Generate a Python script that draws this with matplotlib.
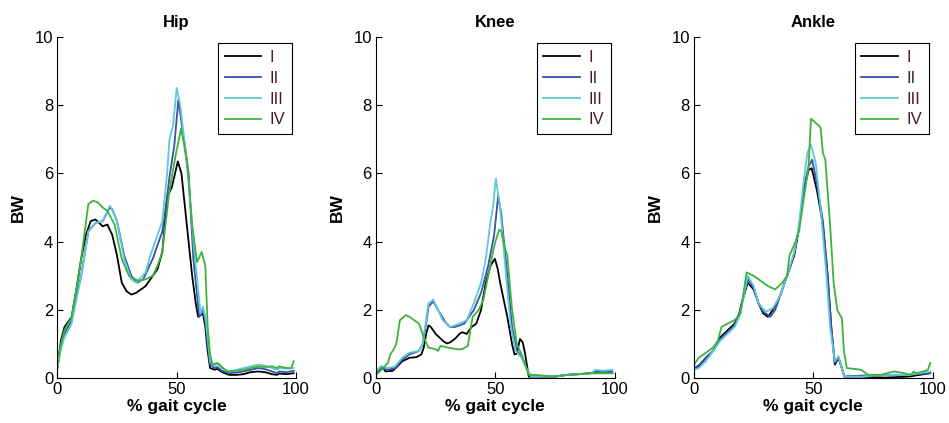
import matplotlib
matplotlib.use("Agg")
import matplotlib.pyplot as plt

plt.rcParams['font.family'] = ['Liberation Sans', 'DejaVu Sans']

titles = ["Hip", "Knee", "Ankle"]
series_names = ["I", "II", "III", "IV"]
colors = ["#000000", "#3a4fa8", "#5ec8dc", "#3cb43c"]

# ---- Hip ----
hip_I_x = [0, 1.5, 3, 6, 8, 10, 12, 14, 16, 19, 21, 23, 25, 27, 29, 31, 33, 35, 37, 40, 42, 44, 46, 48, 50.5, 52, 53.5, 55, 56.5, 58, 59, 60, 61, 62, 63, 64, 66, 67, 69, 72, 75, 78, 81, 84, 87, 90, 92, 93, 96, 99]
hip_I_y = [0.3, 1.1, 1.5, 1.8, 2.6, 3.5, 4.2, 4.6, 4.65, 4.45, 4.5, 4.2, 3.6, 2.8, 2.55, 2.45, 2.5, 2.6, 2.7, 3.0, 3.2, 3.7, 5.3, 5.6, 6.35, 6.0, 5.0, 4.0, 3.0, 2.2, 1.8, 1.85, 1.9, 1.5, 0.8, 0.3, 0.25, 0.28, 0.18, 0.1, 0.1, 0.12, 0.18, 0.2, 0.18, 0.12, 0.1, 0.14, 0.12, 0.15]
hip_II_x = [0, 1.5, 3, 6, 8, 10, 13, 16, 19, 22, 23, 25, 28, 31, 33.5, 36, 38, 40, 42, 44, 46, 47, 49, 50.7, 52, 53.5, 55, 57, 59.5, 61, 62, 63, 64, 66, 67, 69, 72, 75, 78, 81, 84, 87, 90, 92, 93, 96, 99]
hip_II_y = [0.3, 0.9, 1.3, 1.7, 2.4, 3.0, 4.3, 4.55, 4.6, 5.0, 4.95, 4.6, 3.6, 3.0, 2.8, 2.9, 3.2, 3.5, 3.9, 4.3, 5.3, 5.9, 6.8, 8.15, 7.5, 6.8, 6.0, 3.5, 1.8, 2.0, 1.7, 1.0, 0.4, 0.3, 0.33, 0.22, 0.15, 0.17, 0.2, 0.25, 0.3, 0.27, 0.2, 0.15, 0.2, 0.18, 0.22]
hip_III_x = [0, 1.5, 3, 6, 8, 10, 13, 16, 19, 22, 23, 25, 28, 31, 33, 35, 37, 39, 41, 44, 46, 47, 48.5, 50, 51.5, 54, 55, 57, 60, 61, 62, 63, 64, 66, 67, 69, 72, 75, 78, 81, 84, 87, 90, 92, 93, 96, 99]
hip_III_y = [0.3, 0.85, 1.2, 1.6, 2.3, 3.0, 4.3, 4.55, 4.6, 5.05, 4.95, 4.6, 3.5, 2.9, 2.8, 2.95, 3.1, 3.6, 4.0, 4.6, 6.0, 7.0, 7.4, 8.5, 8.0, 6.5, 5.8, 4.0, 1.9, 2.1, 1.8, 1.2, 0.5, 0.38, 0.42, 0.3, 0.2, 0.25, 0.3, 0.35, 0.4, 0.37, 0.3, 0.25, 0.3, 0.28, 0.3]
hip_IV_x = [0, 1.5, 3, 6, 8, 10, 13, 15, 17, 19, 21, 24, 27, 30, 34, 37, 40, 42, 44, 47, 49.5, 51.8, 53, 54.5, 56.5, 58.5, 60.5, 62, 63, 64, 65, 67, 68, 71, 75, 78, 81, 84, 87, 90, 92, 93, 96, 98, 99]
hip_IV_y = [0.4, 1.0, 1.4, 1.8, 2.6, 3.5, 5.1, 5.2, 5.15, 5.0, 4.9, 4.5, 3.5, 3.0, 2.85, 2.9, 3.0, 3.3, 3.7, 5.5, 6.5, 7.3, 6.9, 6.2, 4.5, 3.4, 3.7, 3.3, 1.5, 0.7, 0.4, 0.45, 0.4, 0.2, 0.22, 0.25, 0.3, 0.35, 0.33, 0.35, 0.3, 0.35, 0.3, 0.3, 0.5]

# ---- Knee ----
knee_I_x = [0, 1, 2.4, 4, 7, 9, 11, 14, 17, 19, 20, 21, 22, 23, 25, 28, 29.6, 31, 33, 35, 36, 38, 40, 42, 44, 46, 48, 49.8, 51, 52, 55, 57, 58, 59, 60.3, 61.5, 62.5, 64, 67, 70, 75, 80, 85, 90, 95, 99]
knee_I_y = [0.15, 0.2, 0.35, 0.2, 0.22, 0.35, 0.5, 0.6, 0.62, 0.7, 0.9, 1.3, 1.55, 1.5, 1.3, 1.1, 1.02, 1.05, 1.15, 1.3, 1.35, 1.3, 1.5, 1.6, 2.0, 2.8, 3.3, 3.5, 3.2, 2.8, 1.8, 1.0, 0.7, 0.72, 1.15, 1.05, 0.7, 0.05, 0.05, 0.05, 0.05, 0.1, 0.12, 0.15, 0.15, 0.15]
knee_II_x = [0, 2, 5, 8, 11, 14, 18, 19.5, 21, 22, 24, 26, 29, 31, 33, 35, 37, 39, 41, 44, 47, 49.5, 51.2, 52.5, 55, 57, 59, 61, 63, 65, 70, 75, 80, 85, 90, 92, 95, 99]
knee_II_y = [0.2, 0.3, 0.25, 0.3, 0.55, 0.7, 0.8, 1.0, 1.6, 2.1, 2.25, 2.0, 1.65, 1.5, 1.5, 1.55, 1.6, 1.8, 2.0, 2.5, 3.3, 4.2, 5.35, 4.8, 3.0, 1.5, 0.8, 0.65, 0.3, 0.05, 0.05, 0.05, 0.1, 0.12, 0.15, 0.2, 0.2, 0.2]
knee_III_x = [0, 2, 5, 8, 11, 14, 18, 19.5, 21, 22, 24, 26, 28, 31, 33, 35, 38, 41, 44, 46, 48, 49, 50.2, 52, 54.5, 56.5, 58.5, 61, 63, 65, 70, 75, 80, 85, 90, 92, 95, 99]
knee_III_y = [0.2, 0.35, 0.3, 0.35, 0.6, 0.75, 0.8, 1.0, 1.7, 2.2, 2.3, 2.0, 1.7, 1.5, 1.55, 1.6, 1.7, 2.2, 2.8, 3.5, 4.6, 5.0, 5.85, 5.0, 3.0, 1.5, 0.8, 0.6, 0.3, 0.05, 0.05, 0.05, 0.1, 0.12, 0.15, 0.25, 0.22, 0.25]
knee_IV_x = [0, 3, 5, 6, 7, 8.5, 10, 12.5, 14, 16, 18, 20, 22, 25, 26, 27, 30, 34, 36, 38.5, 39.5, 40.5, 43, 45, 47, 49, 50, 51.6, 52.5, 54, 55, 57, 59, 61, 62.5, 64, 67, 74, 80, 90, 99]
knee_IV_y = [0.1, 0.3, 0.45, 0.7, 0.8, 1.0, 1.7, 1.85, 1.8, 1.7, 1.6, 1.2, 0.9, 0.85, 0.8, 0.95, 0.9, 0.85, 0.85, 0.95, 1.4, 1.8, 2.0, 2.3, 3.0, 3.7, 4.0, 4.35, 4.3, 3.8, 3.6, 2.0, 1.0, 0.7, 0.4, 0.1, 0.1, 0.05, 0.1, 0.15, 0.15]

# ---- Ankle ----
ankle_I_x = [0, 2, 5, 8, 11, 14, 17, 19, 20, 22.5, 25, 27, 29, 31, 33, 36, 39, 42, 44, 46, 48, 49.3, 51.5, 54, 56, 57.5, 59, 60.5, 61.5, 63, 70, 80, 90, 99]
ankle_I_y = [0.3, 0.35, 0.6, 0.8, 1.2, 1.4, 1.6, 1.9, 2.2, 2.8, 2.6, 2.2, 1.9, 1.8, 2.0, 2.4, 3.0, 3.6, 4.4, 5.5, 6.1, 6.15, 5.5, 4.5, 3.0, 1.5, 0.4, 0.6, 0.4, 0.05, 0.05, 0.02, 0.05, 0.15]
ankle_II_x = [0, 2, 5, 8, 11, 14, 17, 19, 20, 22.5, 25, 27, 29, 32, 34, 36, 39, 42, 44, 46, 48, 49.5, 51.5, 54, 56, 57.5, 59, 60.5, 61.5, 63, 70, 80, 90, 99]
ankle_II_y = [0.3, 0.38, 0.6, 0.8, 1.15, 1.35, 1.55, 1.9, 2.2, 2.9, 2.65, 2.2, 1.95, 1.8, 2.0, 2.4, 3.0, 3.65, 4.4, 5.6, 6.2, 6.4, 5.7, 4.6, 3.0, 1.5, 0.45, 0.62, 0.4, 0.05, 0.08, 0.1, 0.1, 0.15]
ankle_III_x = [0, 2, 5, 8, 11, 14, 17, 19, 20, 22.5, 25, 27, 30, 33, 36, 39, 42, 44, 46, 47.5, 49, 51, 53, 55.5, 57, 59, 60.5, 61.5, 63, 70, 80, 90, 99]
ankle_III_y = [0.25, 0.3, 0.5, 0.8, 1.1, 1.3, 1.5, 1.8, 2.1, 3.0, 2.7, 2.2, 1.95, 2.05, 2.4, 3.0, 3.7, 4.5, 5.8, 6.6, 6.85, 6.3, 5.0, 3.0, 1.5, 0.5, 0.65, 0.4, 0.05, 0.05, 0.1, 0.1, 0.2]
ankle_IV_x = [0, 2, 5, 8, 10, 11.5, 14, 17, 19.5, 22, 25, 28, 31, 34, 37, 39, 40, 42, 44, 46.5, 48, 49, 53, 54, 55, 57, 58.5, 60, 62, 62.8, 64, 70, 73, 78, 84, 88, 91, 92, 93, 96, 98, 99]
ankle_IV_y = [0.4, 0.6, 0.75, 0.9, 1.1, 1.5, 1.6, 1.7, 1.9, 3.1, 3.0, 2.85, 2.7, 2.6, 2.8, 3.0, 3.6, 3.9, 4.3, 5.5, 6.2, 7.6, 7.35, 6.6, 6.4, 4.5, 2.8, 2.0, 1.75, 0.8, 0.3, 0.25, 0.1, 0.1, 0.2, 0.15, 0.1, 0.2, 0.15, 0.2, 0.25, 0.45]

panels = [
    [(hip_I_x, hip_I_y), (hip_II_x, hip_II_y), (hip_III_x, hip_III_y), (hip_IV_x, hip_IV_y)],
    [(knee_I_x, knee_I_y), (knee_II_x, knee_II_y), (knee_III_x, knee_III_y), (knee_IV_x, knee_IV_y)],
    [(ankle_I_x, ankle_I_y), (ankle_II_x, ankle_II_y), (ankle_III_x, ankle_III_y), (ankle_IV_x, ankle_IV_y)],
]

x_ticks = [0, 50, 100]
y_ticks = [0, 2, 4, 6, 8, 10]

fig = plt.figure(figsize=(9.49, 4.23), dpi=100)
lefts = [57.3, 376, 694]
W, H = 949, 423
for i, (title, data) in enumerate(zip(titles, panels)):
    ax = fig.add_axes([lefts[i] / W, (H - 378.3) / H, 238.7 / W, 341.6 / H])
    for (xs, ys), c, name in zip(data, colors, series_names):
        ax.plot(xs, ys, color=c, lw=1.3, label=name)
    ax.set_xlim(0, 100)
    ax.set_ylim(0, 10)
    ax.set_xticks(x_ticks)
    ax.set_yticks(y_ticks)
    ax.spines['top'].set_visible(False)
    ax.spines['right'].set_visible(False)
    ax.tick_params(direction='in', length=4, labelsize=12, pad=3)
    ax.set_title(title, fontsize=12, fontweight='bold', pad=7)
    ax.set_xlabel('% gait cycle', fontsize=12.5, fontweight='bold', labelpad=1)
    ax.set_ylabel('BW', fontsize=12.5, fontweight='bold', labelpad=6)
    leg = ax.legend(loc='upper right', bbox_to_anchor=(0.983, 0.981), borderaxespad=0,
                    fontsize=12, handlelength=2.2, handletextpad=0.5, labelspacing=0.35,
                    fancybox=False, framealpha=1, edgecolor='black', borderpad=0.4)
    leg.get_frame().set_linewidth(0.8)
    for t in leg.get_texts():
        t.set_color('#4a1c28')

fig.savefig('out.png', dpi=100)
